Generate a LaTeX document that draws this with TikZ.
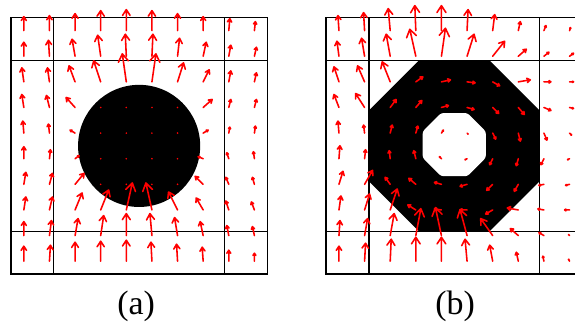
\documentclass[tikz,border=0pt]{standalone}
\usepackage{fontspec}
\setmainfont{Liberation Serif}
\usepackage{tikz}
\usetikzlibrary{shapes.geometric, calc}

\begin{document}
\begin{tikzpicture}
	% Styles
	\tikzstyle{panelline} = [draw=black, line width=0.9pt]
	\tikzstyle{blob} = [fill=black, draw=none, inner sep=0pt, outer sep=0pt]
	\tikzstyle{vec} = [red, line width=1.05pt, line cap=round, line join=round]
	\tikzstyle{sublabel} = [anchor=base, font=\fontsize{22.6}{27}\selectfont]
	\def\pxu{0.0234}

	\useasboundingbox (-0.258,-1.288) rectangle (13.208,6.417);

	% Panel (a): disc
	\node (disc) [blob, circle, minimum size=2.86cm] at (3,3) {};
	\draw [panelline] (0,0) rectangle (6,6) (1,0) -- (1,6) (5,0) -- (5,6) (0,1) -- (6,1) (0,5) -- (6,5);
	\foreach \i/\j in {3/3,4/3,5/3,6/3,3/4,4/4,5/4,6/4,3/5,4/5,5/5,6/5,3/6,4/6,5/6,6/6}
		\fill [red] (0.3+0.6*\i, 5.7-0.6*\j) circle (0.6pt);
	\foreach \i/\j/\u/\v in {
		0/0/0/14, 1/0/0/15, 2/0/0/17, 3/0/0/20, 4/0/0/21, 5/0/0/20, 6/0/0/17, 7/0/0/14, 8/0/1/12, 9/0/1/9,
		0/1/0/14, 1/1/-1/16, 2/1/-3/17, 3/1/-3/21, 4/1/-1/22, 5/1/1/22, 6/1/2/18, 7/1/3/14, 8/1/2/11, 9/1/2/9,
		0/2/-2/14, 1/2/-2/14, 2/2/-6/16, 3/2/-7/21, 4/2/-4/28, 5/2/4/28, 6/2/6/19, 7/2/6/12, 8/2/2/11, 9/2/2/9,
		0/3/-2/13, 1/3/-3/12, 2/3/-9/10, 7/3/9/8, 8/3/2/8, 9/3/2/8,
		0/4/-1/12, 1/4/-1/9, 2/4/-5/3, 7/4/5/3, 8/4/1/6, 9/4/1/7,
		0/5/0/12, 1/5/1/9, 2/5/4/3, 7/5/-5/2, 8/5/-2/6, 9/5/-1/7,
		0/6/2/12, 1/6/3/11, 2/6/9/11, 7/6/-8/8, 8/6/-3/7, 9/6/-2/7,
		0/7/2/13, 1/7/3/13, 2/7/7/17, 3/7/8/20, 4/7/6/27, 5/7/-6/27, 6/7/-9/18, 7/7/-7/12, 8/7/-3/9, 9/7/-3/8,
		0/8/0/14, 1/8/2/15, 2/8/3/17, 3/8/3/20, 4/8/0/22, 5/8/-2/22, 6/8/-3/18, 7/8/-3/14, 8/8/-2/10, 9/8/-2/9,
		0/9/0/15, 1/9/1/16, 2/9/0/19, 3/9/0/20, 4/9/0/21, 5/9/-1/19, 6/9/-1/17, 7/9/-1/14, 8/9/0/11, 9/9/0/8}
	{
		\coordinate (tail) at (0.3+0.6*\i, 5.7-0.6*\j);
		\coordinate (tip) at ($(tail)+(\u*\pxu,\v*\pxu)$);
		\draw [vec] (tail) -- (tip) ($(tip)!0.33!33:(tail)$) -- (tip) -- ($(tip)!0.33!-33:(tail)$);
	}

	% Panel (b): ring
	\begin{scope}[xshift=7.38cm]
		\node (ring) [blob, regular polygon, regular polygon sides=8, minimum size=4.33cm] at (3,3) {};
		\node (hole) [blob, fill=white, regular polygon, regular polygon sides=8, minimum size=1.6cm, rounded corners=1.5pt] at (3,3.03) {};
		\draw [panelline] (0,0) rectangle (6,6) (1,0) -- (1,6) (5,0) -- (5,6) (0,1) -- (6,1) (0,5) -- (6,5);
		\foreach \i/\j/\u/\v in {
			0/0/-1/15, 1/0/-1/18, 2/0/-2/22, 3/0/-1/25, 4/0/0/25, 5/0/1/21, 6/0/2/16, 7/0/2/9, 8/0/2/5, 9/0/1/3,
			0/1/-2/15, 1/1/-3/18, 2/1/-4/22, 3/1/-6/27, 4/1/4/28, 5/1/7/22, 6/1/12/15, 7/1/8/7, 8/1/5/4, 9/1/4/3,
			0/2/-5/15, 1/2/-7/16, 2/2/-8/20, 3/2/7/5, 4/2/9/2, 5/2/8/-1, 6/2/7/-4, 7/2/12/2, 8/2/7/0, 9/2/4/0,
			0/3/-5/13, 1/3/-9/14, 2/3/6/8, 3/3/6/7, 4/3/7/2, 5/3/7/-2, 6/3/6/-6, 7/3/6/-7, 8/3/7/-3, 9/3/4/-1,
			0/4/-1/12, 1/4/-1/8, 2/4/2/8, 3/4/2/7, 4/4/2/3, 5/4/1/-1, 6/4/3/-6, 7/4/2/-8, 8/4/3/-7, 9/4/2/-2,
			0/5/1/13, 1/5/1/9, 2/5/-1/8, 3/5/-2/8, 4/5/-2/2, 5/5/-2/-1, 6/5/-3/-6, 7/5/-2/-7, 8/5/-3/-6, 9/5/-2/-1,
			0/6/4/13, 1/6/8/14, 2/6/-5/7, 3/6/-7/6, 4/6/-7/2, 5/6/-7/-2, 6/6/-6/-6, 7/6/-4/-7, 8/6/-5/-1, 9/6/-4/-1,
			0/7/2/14, 1/7/5/16, 2/7/7/21, 3/7/-8/5, 4/7/-7/1, 5/7/-7/0, 6/7/-7/-4, 7/7/-11/2, 8/7/-6/1, 9/7/-5/0,
			0/8/1/15, 1/8/3/17, 2/8/4/22, 3/8/5/27, 4/8/-6/28, 5/8/-7/26, 6/8/-12/17, 7/8/-8/7, 8/8/-5/3, 9/8/-1/1,
			0/9/0/15, 1/9/1/18, 2/9/1/22, 3/9/0/24, 4/9/0/24, 5/9/-2/22, 6/9/-3/16, 7/9/-2/9, 8/9/-1/5, 9/9/-1/2}
		{
			\coordinate (tail) at (0.3+0.6*\i, 5.7-0.6*\j);
			\coordinate (tip) at ($(tail)+(\u*\pxu,\v*\pxu)$);
			\draw [vec] (tail) -- (tip) ($(tip)!0.33!33:(tail)$) -- (tip) -- ($(tip)!0.33!-33:(tail)$);
		}
	\end{scope}

	% Labels
	\node (capa) [sublabel] at (2.93,-0.94) {(a)};
	\node (capb) [sublabel] at (10.40,-0.94) {(b)};
\end{tikzpicture}
\end{document}
